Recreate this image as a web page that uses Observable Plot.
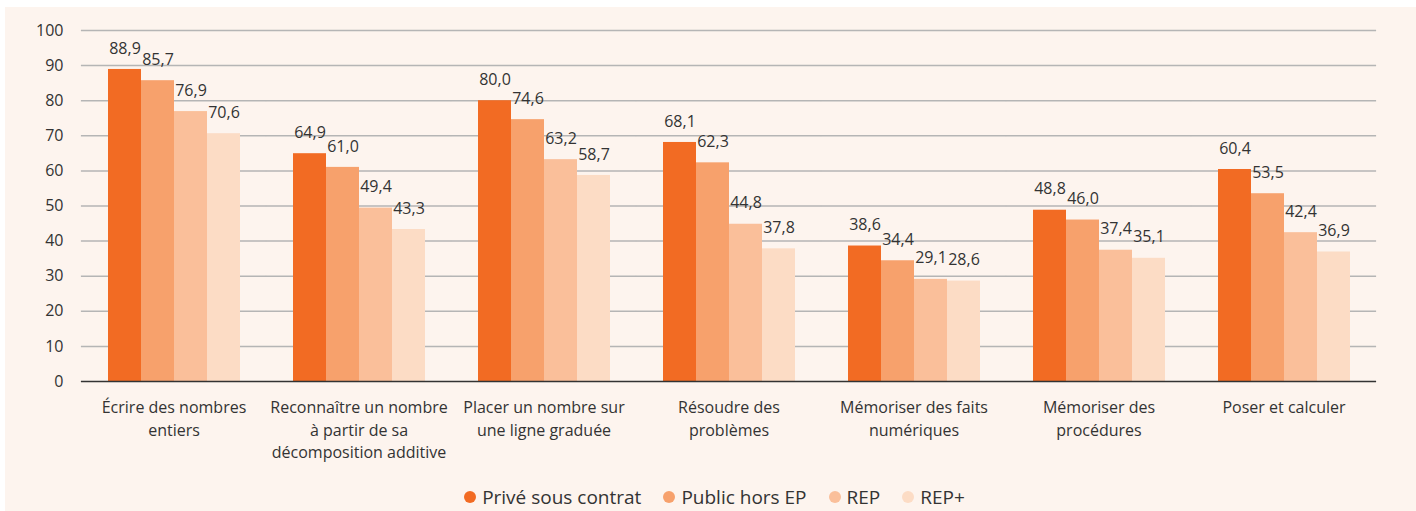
<!DOCTYPE html>
<html>
<head>
<meta charset="utf-8">
<script src="https://cdn.jsdelivr.net/npm/d3@7"></script>
<script src="https://cdn.jsdelivr.net/npm/@observablehq/plot@0.6"></script>
<style>
  html, body { margin: 0; padding: 0; background: #ffffff; }
  #wrap { position: absolute; left: 5px; top: 7px; width: 1411px; height: 504px; background: #fdf4ee; font-family: "Open Sans", sans-serif; color: #333; }
  #legend { display: flex; justify-content: center; gap: 22px; font-size: 19px; line-height: 24px; margin-left: 8px; }
  #legend span.item { display: inline-flex; align-items: center; }
  #legend span.dot { width: 12px; height: 12px; border-radius: 50%; display: inline-block; margin-right: 6px; }
</style>
</head>
<body>
<div id="wrap"><div id="chart"></div><div id="legend"></div></div>
<script>
const categories = [
  "Écrire des nombres\nentiers",
  "Reconnaître un nombre\nà partir de sa\ndécomposition additive",
  "Placer un nombre sur\nune ligne graduée",
  "Résoudre des\nproblèmes",
  "Mémoriser des faits\nnumériques",
  "Mémoriser des\nprocédures",
  "Poser et calculer"
];
const seriesNames = ["Privé sous contrat", "Public hors EP", "REP", "REP+"];
const prive = [88.9, 64.9, 80.0, 68.1, 38.6, 48.8, 60.4];
const publicHorsEP = [85.7, 61.0, 74.6, 62.3, 34.4, 46.0, 53.5];
const rep = [76.9, 49.4, 63.2, 44.8, 29.1, 37.4, 42.4];
const repPlus = [70.6, 43.3, 58.7, 37.8, 28.6, 35.1, 36.9];
const yTicks = [0, 10, 20, 30, 40, 50, 60, 70, 80, 90, 100];
const colors = ["#f26b23", "#f7a16c", "#fabf9a", "#fcdcc5"];

const seriesValues = [prive, publicHorsEP, rep, repPlus];
const data = [];
categories.forEach((c, i) => {
  seriesNames.forEach((s, j) => data.push({cat: c, series: s, value: seriesValues[j][i]}));
});
const fmt = v => v.toFixed(1).replace(".", ",");

const plot = Plot.plot({
  width: 1411,
  height: 478,
  marginTop: 23,
  marginLeft: 75,
  marginRight: 39,
  marginBottom: 104,
  style: {background: "transparent", fontFamily: "'Open Sans', sans-serif", fontSize: "16px", color: "#333"},
  fx: {domain: categories, paddingInner: 0.27, paddingOuter: 0.135, label: null, axis: null},
  x: {domain: seriesNames, padding: 0, axis: null},
  y: {domain: [0, 100], label: null, axis: null},
  color: {domain: seriesNames, range: colors},
  marks: [
    Plot.ruleY(yTicks.filter(d => d > 0), {stroke: "#b5b5b5", strokeWidth: 1.5, insetLeft: -25.1, insetRight: -25.1}),
    Plot.barY(data, {fx: "cat", x: "series", y: "value", fill: "series", inset: 0}),
    Plot.text(data, {fx: "cat", x: "series", y: "value", text: d => fmt(d.value), dy: -21, fill: "#333", fontSize: 16}),
    Plot.ruleY([0], {stroke: "#333", strokeWidth: 1.5, insetLeft: -25.1, insetRight: -25.1}),
    Plot.axisY({ticks: yTicks, tickSize: 0, tickPadding: 43, label: null, fontSize: 16}),
    Plot.axisFx({anchor: "bottom", tickSize: 0, tickPadding: 16, label: null, fontSize: 16, lineHeight: 1.4, textAnchor: "middle"})
  ]
});
document.getElementById("chart").appendChild(plot);

const legend = document.getElementById("legend");
seriesNames.forEach((s, i) => {
  const it = document.createElement("span");
  it.className = "item";
  const dot = document.createElement("span");
  dot.className = "dot";
  dot.style.background = colors[i];
  it.appendChild(dot);
  it.appendChild(document.createTextNode(s));
  legend.appendChild(it);
});
</script>
</body>
</html>
